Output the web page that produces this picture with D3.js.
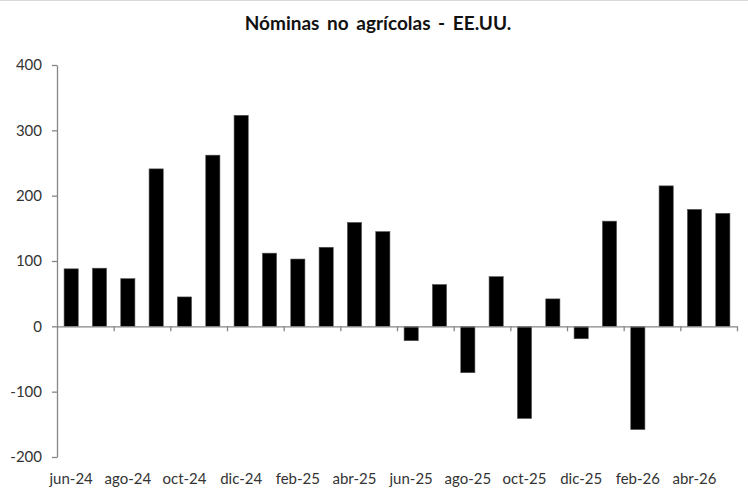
<!DOCTYPE html>
<html>
<head>
<meta charset="utf-8">
<script src="https://cdn.jsdelivr.net/npm/d3@7"></script>
<style>
  body { margin: 0; background: #fff; }
  svg { display: block; font-family: Lato, "Open Sans", sans-serif; }
</style>
</head>
<body>
<svg id="chart" width="748" height="500"></svg>
<script>
// Monthly change in US nonfarm payrolls (thousands)
const months = [
  'jun-24', 'jul-24', 'ago-24', 'sep-24', 'oct-24', 'nov-24', 'dic-24',
  'ene-25', 'feb-25', 'mar-25', 'abr-25', 'may-25', 'jun-25', 'jul-25',
  'ago-25', 'sep-25', 'oct-25', 'nov-25', 'dic-25', 'ene-26', 'feb-26',
  'mar-26', 'abr-26', 'may-26'
];
const payrolls = [
  88, 89, 73, 241, 45, 262, 323,
  112, 103, 121, 159, 145, -22, 64,
  -71, 76, -141, 42, -19, 161, -158,
  215, 179, 173
];
const yTicks = [-200, -100, 0, 100, 200, 300, 400];
const labelMonths = months.filter((m, i) => i % 2 === 0);

const title = 'Nóminas no agrícolas - EE.UU.';

const plotLeft = 57, plotRight = 737, plotTop = 65, plotBottom = 457;
const axisColor = '#868686';
const textColor = '#333';
const fontStack = 'Lato, "Open Sans", sans-serif';

const svg = d3.select('#chart');

// thin grey frame line at the top of the picture
svg.append('line')
  .attr('x1', 0).attr('x2', 748)
  .attr('y1', 0.5).attr('y2', 0.5)
  .attr('stroke', '#d9d9d9');

svg.append('text')
  .attr('x', 378)
  .attr('y', 30)
  .attr('text-anchor', 'middle')
  .attr('font-size', 19)
  .attr('font-weight', 'bold')
  .attr('word-spacing', 3)
  .attr('fill', '#111')
  .text(title);

const x = d3.scaleBand()
  .domain(months)
  .range([plotLeft, plotRight])
  .paddingInner(0.5)
  .paddingOuter(0.25);

const y = d3.scaleLinear()
  .domain([-200, 400])
  .range([plotBottom, plotTop]);

// bars
svg.append('g')
  .selectAll('rect')
  .data(payrolls)
  .join('rect')
    .attr('x', (d, i) => x(months[i]))
    .attr('width', x.bandwidth())
    .attr('y', d => y(Math.max(d, 0)))
    .attr('height', d => Math.abs(y(d) - y(0)))
    .attr('fill', '#000')
    .attr('stroke', '#555')
    .attr('stroke-width', 0.6);

// y axis (plain hyphen for negatives, like the original)
const yAxis = svg.append('g')
  .attr('transform', `translate(${plotLeft},0)`)
  .call(d3.axisLeft(y)
    .tickValues(yTicks)
    .tickFormat(d => String(d))
    .tickSize(5)
    .tickPadding(10)
    .tickSizeOuter(0));
yAxis.selectAll('path, line').attr('stroke', axisColor).attr('stroke-width', 1.3);
yAxis.selectAll('text').attr('font-size', 15).attr('fill', textColor).attr('font-family', fontStack);

// x axis line at zero with ticks between every second month
const xEdges = d3.scaleLinear().domain([0, months.length]).range([plotLeft, plotRight]);
const xAxis = svg.append('g')
  .attr('transform', `translate(0,${y(0)})`)
  .call(d3.axisBottom(xEdges)
    .tickValues(d3.range(2, months.length + 1, 2))
    .tickSize(5)
    .tickSizeOuter(0)
    .tickFormat(''));
xAxis.selectAll('path, line').attr('stroke', axisColor).attr('stroke-width', 1.3);

// month labels along the bottom
const xLabels = svg.append('g')
  .attr('transform', `translate(0,473)`)
  .call(d3.axisBottom(x).tickValues(labelMonths).tickSize(0).tickPadding(0));
xLabels.select('.domain').remove();
xLabels.selectAll('text').attr('font-size', 15).attr('fill', textColor).attr('font-family', fontStack);
</script>
</body>
</html>
